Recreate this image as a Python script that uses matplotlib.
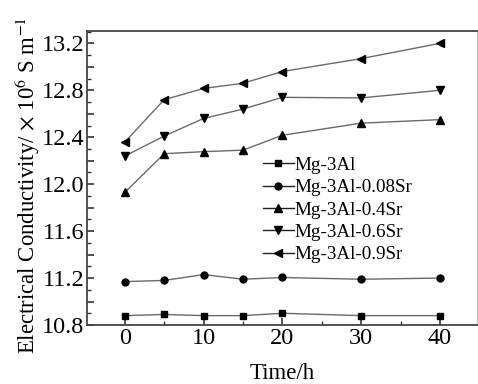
import matplotlib
matplotlib.use("Agg")
import matplotlib.pyplot as plt
from matplotlib.ticker import MultipleLocator, FuncFormatter

plt.rcParams['font.family'] = ['Liberation Serif', 'DejaVu Serif']
plt.rcParams['mathtext.fontset'] = 'stix'

time_h = [0, 5, 10, 15, 20, 30, 40]
series_names = ["Mg-3Al", "Mg-3Al-0.08Sr", "Mg-3Al-0.4Sr", "Mg-3Al-0.6Sr", "Mg-3Al-0.9Sr"]
mg3al = [10.88, 10.89, 10.88, 10.88, 10.90, 10.88, 10.88]
mg3al_008sr = [11.17, 11.18, 11.23, 11.19, 11.205, 11.19, 11.20]
mg3al_04sr = [11.93, 12.26, 12.277, 12.29, 12.417, 12.52, 12.55]
mg3al_06sr = [12.24, 12.41, 12.56, 12.64, 12.74, 12.735, 12.80]
mg3al_09sr = [12.36, 12.72, 12.816, 12.86, 12.96, 13.07, 13.20]
markers = ['s', 'o', '^', 'v', '<']
msizes = [4.5, 5, 5.5, 5.5, 5.5]

fig = plt.figure(figsize=(4.78, 3.84), dpi=100)
ax = fig.add_axes([0.182, 0.1536, 0.816, 0.7656])

for name, vals, m, ms in zip(series_names,
                             [mg3al, mg3al_008sr, mg3al_04sr, mg3al_06sr, mg3al_09sr],
                             markers, msizes):
    ax.plot(time_h, vals, color='#6a6a6a', lw=1.0, marker=m, ms=ms,
            markerfacecolor='black', markeredgecolor='black', label=name)

ax.set_xlim(-4.8, 44.7)
ax.set_ylim(10.8, 13.305)
ax.xaxis.set_major_locator(MultipleLocator(10))
ax.xaxis.set_minor_locator(MultipleLocator(5))
ax.yaxis.set_major_locator(MultipleLocator(0.2))
ax.yaxis.set_minor_locator(MultipleLocator(0.1))

def yfmt(v, pos):
    k = round(v / 0.2)
    if k % 2 == 0:
        return f"{v:.1f}"
    return ""
ax.yaxis.set_major_formatter(FuncFormatter(yfmt))

ax.tick_params(axis='both', which='major', direction='in', length=5, width=1.2,
               color='#333333', labelsize=17.5, pad=2)
ax.tick_params(axis='both', which='minor', direction='in', length=3, width=1.0,
               color='#333333')
ax.tick_params(axis='x', which='both', top=False)
ax.tick_params(axis='y', which='both', right=False)
for s in ax.spines.values():
    s.set_color('#444444')
    s.set_linewidth(1.3)
ax.spines['right'].set_color('#bbbbbb')
ax.spines['right'].set_linewidth(0.8)

ax.set_xlabel("Time/h", fontsize=16.5, labelpad=10.5)
ax.set_ylabel(r"Electrical Conductivity/ $\times$ 10$^{6}$ S m$^{-1}$", fontsize=16.4)
ax.yaxis.set_label_coords(-0.115, 0.476)

leg = ax.legend(loc='upper left', bbox_to_anchor=(0.432, 0.598), frameon=False,
                fontsize=13.7, numpoints=1, handlelength=1.6, handletextpad=0.05,
                labelspacing=0.26, borderaxespad=0)
for h in leg.get_lines():
    h.set_color('#222222')

fig.savefig("out.png", dpi=100)
